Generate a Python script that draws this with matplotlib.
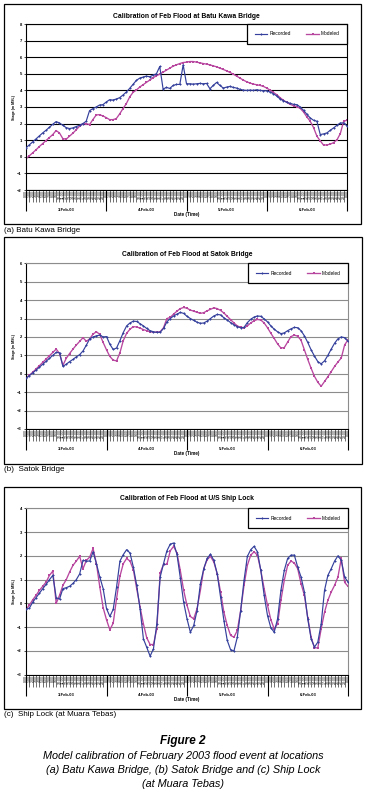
import matplotlib.pyplot as plt
from matplotlib.patches import Rectangle

plt.rcParams['font.family'] = ['Liberation Sans', 'DejaVu Sans']

# hourly categories, 3-Feb-03 0:00 .. 7-Feb-03 0:00
hours = ["%d:00" % (h % 24) for h in range(97)]
days = ["3-Feb-03", "4-Feb-03", "5-Feb-03", "6-Feb-03"]
day_mid = [12, 36, 60, 84]
day_edges = [0, 24, 48, 72, 96]

# (a) Batu Kawa Bridge
rec_a = [0.54, 0.72, 0.90, 1.08, 1.26, 1.44, 1.60, 1.78, 1.96, 2.12,
         2.04, 1.90, 1.76, 1.70, 1.74, 1.82, 1.90, 2.00, 2.14, 2.78,
         2.90, 3.00, 3.12, 3.14, 3.30, 3.44, 3.42, 3.48, 3.56, 3.72,
         3.90, 4.12, 4.36, 4.60, 4.74, 4.80, 4.86, 4.82, 4.92, 5.00,
         5.44, 4.08, 4.18, 4.12, 4.30, 4.36, 4.36, 5.54, 4.40, 4.40,
         4.38, 4.40, 4.42, 4.40, 4.42, 4.10, 4.30, 4.48, 4.30, 4.14,
         4.20, 4.24, 4.18, 4.14, 4.06, 4.02, 4.00, 4.02, 4.00, 4.04,
         4.00, 3.98, 3.98, 3.90, 3.80, 3.66, 3.48, 3.38, 3.28, 3.22,
         3.16, 3.14, 3.00, 2.80, 2.56, 2.34, 2.20, 2.14, 1.34, 1.38,
         1.44, 1.60, 1.74, 1.90, 2.04, 2.04, 1.86]
mod_a = [-0.12, 0.06, 0.24, 0.42, 0.62, 0.80, 0.98, 1.16, 1.34, 1.58,
         1.44, 1.10, 1.06, 1.24, 1.42, 1.62, 1.84, 1.98, 2.00, 1.94,
         2.24, 2.52, 2.54, 2.46, 2.36, 2.24, 2.24, 2.30, 2.58, 2.90,
         3.20, 3.60, 3.88, 4.02, 4.20, 4.34, 4.48, 4.62, 4.76, 4.88,
         4.98, 5.10, 5.22, 5.34, 5.46, 5.54, 5.62, 5.68, 5.70, 5.74,
         5.74, 5.70, 5.66, 5.62, 5.58, 5.54, 5.48, 5.42, 5.34, 5.26,
         5.18, 5.08, 4.98, 4.86, 4.74, 4.62, 4.52, 4.44, 4.38, 4.34,
         4.30, 4.24, 4.14, 4.02, 3.88, 3.74, 3.56, 3.40, 3.28, 3.16,
         3.08, 3.02, 2.92, 2.70, 2.40, 2.14, 1.76, 1.24, 0.96, 0.70,
         0.72, 0.76, 0.86, 1.02, 1.40, 2.14, 2.20]

# (b) Satok Bridge
rec_b = [-0.25, -0.10, 0.05, 0.20, 0.36, 0.52, 0.68, 0.84, 1.00, 1.16,
         1.14, 0.40, 0.52, 0.66, 0.78, 0.92, 1.04, 1.24, 1.56, 1.90,
         2.00, 2.06, 2.10, 2.00, 2.02, 1.60, 1.32, 1.40, 1.80, 2.24,
         2.60, 2.76, 2.86, 2.84, 2.72, 2.60, 2.46, 2.34, 2.28, 2.25,
         2.26, 2.46, 2.82, 3.00, 3.14, 3.24, 3.33, 3.28, 3.12, 3.00,
         2.90, 2.80, 2.74, 2.76, 2.86, 3.00, 3.14, 3.22, 3.20, 3.04,
         2.92, 2.78, 2.66, 2.56, 2.50, 2.52, 2.78, 2.96, 3.08, 3.14,
         3.12, 2.98, 2.82, 2.60, 2.42, 2.28, 2.18, 2.22, 2.34, 2.44,
         2.52, 2.50, 2.34, 2.06, 1.70, 1.30, 0.96, 0.66, 0.54, 0.70,
         1.00, 1.34, 1.66, 1.90, 2.00, 1.96, 1.76]
mod_b = [-0.25, -0.08, 0.08, 0.26, 0.44, 0.62, 0.80, 0.98, 1.16, 1.34,
         1.10, 0.46, 0.84, 1.10, 1.34, 1.56, 1.76, 1.96, 1.76, 1.90,
         2.16, 2.28, 2.14, 1.70, 1.30, 0.94, 0.74, 0.70, 1.14, 1.80,
         2.20, 2.42, 2.56, 2.54, 2.48, 2.40, 2.34, 2.28, 2.26, 2.25,
         2.28, 2.50, 3.00, 3.06, 3.24, 3.40, 3.54, 3.60, 3.56, 3.46,
         3.40, 3.34, 3.28, 3.32, 3.42, 3.50, 3.58, 3.54, 3.44, 3.30,
         3.12, 2.94, 2.76, 2.60, 2.52, 2.50, 2.60, 2.76, 2.88, 2.95,
         2.92, 2.76, 2.50, 2.20, 1.92, 1.62, 1.40, 1.42, 1.72, 2.02,
         2.10, 2.04, 1.82, 1.30, 0.78, 0.30, -0.14, -0.46, -0.68, -0.42,
         -0.16, 0.12, 0.40, 0.64, 0.86, 1.57, 1.84]

# (c) Ship Lock
rec_c = [-0.25, -0.20, 0.05, 0.24, 0.43, 0.62, 0.80, 1.00, 1.18, 0.24,
         0.18, 0.62, 0.66, 0.72, 0.84, 1.00, 1.24, 1.81, 1.78, 1.78,
         2.17, 1.67, 1.11, 0.62, -0.22, -0.55, -0.25, 0.69, 1.78, 2.05,
         2.26, 2.12, 1.53, 0.76, -0.22, -1.49, -1.85, -2.22, -1.91, -0.86,
         1.11, 1.67, 2.21, 2.49, 2.54, 2.07, 1.08, 0.05, -0.65, -1.21,
         -0.93, -0.30, 0.83, 1.46, 1.89, 2.07, 1.81, 1.25, 0.27, -0.72,
         -1.56, -1.95, -2.00, -1.42, -0.30, 0.97, 1.98, 2.26, 2.40, 2.17,
         1.39, 0.34, -0.51, -1.03, -1.21, -0.65, 0.55, 1.39, 1.89, 2.03,
         2.03, 1.53, 1.11, 0.48, -0.65, -1.49, -1.84, -1.63, -0.86, 0.55,
         1.18, 1.46, 1.78, 2.00, 1.81, 1.10, 0.90]
mod_c = [-0.25, -0.08, 0.15, 0.34, 0.55, 0.72, 0.90, 1.18, 1.36, 0.00,
         0.34, 0.76, 1.00, 1.32, 1.60, 1.78, 1.98, 1.46, 1.81, 1.95,
         2.31, 1.67, 0.69, -0.18, -0.69, -1.11, -0.83, 0.20, 1.14, 1.67,
         1.89, 1.78, 1.42, 0.62, -0.15, -0.86, -1.45, -1.73, -1.73, -1.07,
         1.28, 1.64, 1.64, 2.21, 2.40, 2.12, 1.39, 0.55, -0.08, -0.55,
         -0.65, -0.22, 0.55, 1.46, 1.84, 1.98, 1.74, 1.25, 0.48, -0.37,
         -0.93, -1.35, -1.42, -1.14, -0.30, 0.76, 1.60, 2.03, 2.17, 2.03,
         1.39, 0.62, -0.08, -0.69, -1.07, -0.86, 0.13, 0.97, 1.60, 1.78,
         1.70, 1.46, 0.83, 0.34, -0.60, -1.42, -1.87, -1.87, -1.07, -0.37,
         0.13, 0.48, 0.76, 1.11, 1.89, 0.88, 0.72]

W, H = 367, 793
fig = plt.figure(figsize=(W / 100, H / 100), dpi=100)
BLUE = '#34409c'
MAG = '#b8479f'


def panel(frame, area, ylim, rec, mod, title, ty, caption, cy, gcol):
    # frame round the whole chart
    x0, y0, x1, y1 = frame
    fig.add_artist(Rectangle((x0 / W, 1 - y1 / H), (x1 - x0) / W, (y1 - y0) / H,
                             transform=fig.transFigure, fill=False, ec='black', lw=0.9))
    a0, b0, a1, b1 = area
    ax = fig.add_axes([a0 / W, 1 - b1 / H, (a1 - a0) / W, (b1 - b0) / H])
    x = list(range(len(rec)))
    ax.plot(x, rec, color=BLUE, lw=0.85, marker='D', ms=1.3, mew=0, label='Recorded', zorder=3)
    ax.plot(x, mod, color=MAG, lw=0.95, marker='s', ms=1.8, mew=0, label='Modeled', zorder=2)
    ax.set_xlim(0, 96)
    ax.set_ylim(*ylim)
    ax.set_yticks(range(ylim[0], ylim[1] + 1))
    ax.tick_params(axis='y', labelsize=3, length=1.5, width=0.5, pad=1.5)
    for t in ax.get_yticklabels():
        t.set_fontweight('bold')
    ax.grid(axis='y', color=gcol, lw=0.8)
    ax.set_axisbelow(True)
    for s in ['top', 'right']:
        ax.spines[s].set_color(gcol)
        ax.spines[s].set_linewidth(0.8)
    ax.spines['left'].set_linewidth(0.8)
    ax.spines['bottom'].set_linewidth(0.8)

    # hour labels (minor) and day labels (major)
    ax.xaxis.remove_overlapping_locs = False
    ax.set_xticks(range(len(hours)), minor=True)
    ax.set_xticklabels(hours, minor=True, rotation=90, fontsize=2.5, color='#111111')
    ax.tick_params(axis='x', which='minor', length=8.6, width=0.4, pad=-8.4)
    ax.set_xticks(day_mid)
    ax.set_xticklabels(days, fontsize=3, fontweight='bold')
    ax.tick_params(axis='x', which='major', length=0, pad=13)
    ax.vlines(day_edges, -21 / (b1 - b0), 0, transform=ax.get_xaxis_transform(),
              color='black', lw=0.8, clip_on=False)

    leg = ax.legend(loc='upper right', bbox_to_anchor=(1.0, 1.0), ncol=2, fontsize=3.5,
                    frameon=True, fancybox=False, borderaxespad=0, handlelength=2.6,
                    columnspacing=3.2, borderpad=1.5, handletextpad=0.4, numpoints=1)
    leg.get_frame().set_edgecolor('black')
    leg.get_frame().set_linewidth(0.9)
    leg.get_frame().set_alpha(1)

    xc = (a0 + a1) / 2
    fig.text(xc / W, 1 - ty / H, title, ha='center', va='center', fontsize=4.9, fontweight='bold')
    fig.text(14 / W, 1 - (b0 + b1) / 2 / H, 'Stage (m MSL)', rotation=90, ha='center',
             va='center', fontsize=2.6, fontweight='bold')
    fig.text(187 / W, 1 - (b1 + 24.5) / H, 'Date (Time)', ha='center', va='center',
             fontsize=3.3, fontweight='bold')
    fig.text(4 / W, 1 - cy / H, caption, ha='left', va='center', fontsize=5.8)
    return ax


panel((4, 4, 361, 224), (26, 24, 347, 190), (-2, 8), rec_a, mod_a,
      'Calibration of Feb Flood at Batu Kawa Bridge', 16, '(a) Batu Kawa Bridge', 230, 'black')
panel((4, 237, 362, 464), (26, 263.3, 348, 429), (-3, 6), rec_b, mod_b,
      'Calibration of Feb Flood at Satok Bridge', 255, '(b)  Satok Bridge', 469.5, '#8c8c8c')
panel((4, 487, 361, 709), (26, 508.3, 348, 674.7), (-3, 4), rec_c, mod_c,
      'Calibration of Feb Flood at U/S Ship Lock', 499, '(c)  Ship Lock (at Muara Tebas)', 715, '#8c8c8c')

fig.text(183 / W, 1 - 741 / H, 'Figure 2', ha='center', va='center', fontsize=8.5,
         fontweight='bold', fontstyle='italic')
cap = ['Model calibration of February 2003 flood event at locations',
       '(a) Batu Kawa Bridge, (b) Satok Bridge and (c) Ship Lock',
       '(at Muara Tebas)']
for k, line in enumerate(cap):
    fig.text(183 / W, 1 - (756 + 14 * k) / H, line, ha='center', va='center',
             fontsize=7.8, fontstyle='italic')

fig.savefig('out.png', dpi=100)
